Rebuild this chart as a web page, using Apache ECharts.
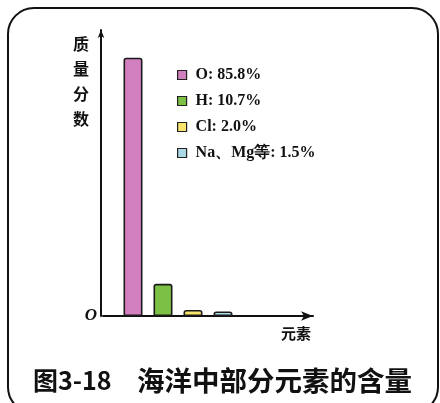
<!DOCTYPE html>
<html>
<head>
<meta charset="utf-8">
<script src="https://cdn.jsdelivr.net/npm/echarts@6/dist/echarts.min.js"></script>
<style>
  html, body { margin: 0; padding: 0; background: #fff; }
  #chart { width: 440px; height: 403px; }
</style>
</head>
<body>
<div id="chart"></div>
<script>
// 海洋中部分元素的含量
const elements = ["O", "H", "Cl", "Na、Mg等"];
const contents = [85.8, 10.7, 2.0, 1.5];
const colors = ["#d27fc0", "#7cc146", "#f6e46c", "#a9d9e6"];
// first empty slot keeps the O bar away from the y axis, trailing slots stretch the x axis
const xSlots = [""].concat(elements, ["", "", ""]);

const chart = echarts.init(document.getElementById("chart"));

const series = elements.map((name, i) => {
  const data = xSlots.map(s => (s === name ? contents[i] : "-"));
  return {
    name: name,
    type: "bar",
    stack: "all",
    barWidth: 19,
    data: data,
    itemStyle: {
      color: colors[i],
      borderColor: "#1a1a1a",
      borderWidth: 1.6,
      borderRadius: [2, 2, 0, 0]
    }
  };
});

chart.setOption({
  animation: false,
  graphic: [
    {
      type: "rect",
      shape: { x: 8, y: 8, width: 430, height: 405, r: 26 },
      style: { fill: "none", stroke: "#111", lineWidth: 2 }
    }
  ],
  title: {
    text: "{a|图3-18}{b|海洋中部分元素的含量}",
    left: 28,
    top: 362,
    textStyle: {
      rich: {
        a: {
          fontFamily: "Noto Sans CJK SC",
          fontWeight: "bold",
          fontSize: 25,
          color: "#111",
          width: 104
        },
        b: {
          fontFamily: "Noto Sans CJK SC",
          fontWeight: "bold",
          fontSize: 27.5,
          color: "#111"
        }
      }
    }
  },
  legend: {
    orient: "vertical",
    left: 172,
    top: 62,
    itemWidth: 9,
    itemHeight: 9,
    itemGap: 10,
    icon: "rect",
    data: elements,
    formatter: name => name + ": " + contents[elements.indexOf(name)].toFixed(1) + "%",
    itemStyle: { borderColor: "#222", borderWidth: 1.2 },
    textStyle: {
      fontFamily: "Liberation Serif",
      fontWeight: "bold",
      fontSize: 16,
      lineHeight: 16,
      color: "#111",
      padding: [0, 0, 0, 4]
    }
  },
  grid: { left: 103, top: 30, width: 210, height: 286 },
  xAxis: {
    type: "category",
    data: xSlots,
    boundaryGap: false,
    name: "元素",
    nameLocation: "end",
    nameGap: 0,
    nameTextStyle: {
      fontFamily: "Noto Sans CJK SC",
      fontWeight: "bold",
      fontSize: 15,
      color: "#111",
      align: "right",
      verticalAlign: "top",
      padding: [10, 2, 0, 0]
    },
    axisLine: {
      symbol: ["none", "arrow"],
      symbolSize: [7, 12],
      lineStyle: { color: "#111", width: 2 }
    },
    axisTick: { show: false },
    axisLabel: { show: false },
    splitLine: { show: false }
  },
  yAxis: {
    type: "value",
    min: 0,
    max: 95,
    interval: 95,
    offset: 2,
    name: "质\n量\n分\n数",
    nameLocation: "end",
    nameGap: -1,
    nameTextStyle: {
      fontFamily: "Noto Sans CJK SC",
      fontWeight: "bold",
      fontSize: 16,
      lineHeight: 25,
      color: "#111",
      align: "right",
      verticalAlign: "top",
      padding: [0, 12, 0, 0]
    },
    axisLine: {
      show: true,
      symbol: ["none", "arrow"],
      symbolSize: [5, 8],
      lineStyle: { color: "#111", width: 2 }
    },
    axisTick: { show: false },
    splitLine: { show: false },
    axisLabel: {
      margin: 4,
      formatter: v => (v === 0 ? "O" : ""),
      fontFamily: "Liberation Serif",
      fontStyle: "italic",
      fontWeight: "bold",
      fontSize: 17,
      color: "#111",
      verticalAlign: "middle",
      padding: [4, 0, 0, 0]
    }
  },
  series: series
});
</script>
</body>
</html>
